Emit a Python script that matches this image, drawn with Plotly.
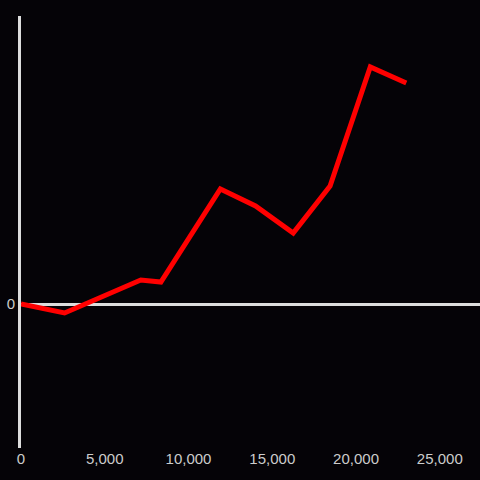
import plotly.graph_objects as go

# Données
x_vals = [0, 2600, 7150, 8350, 11900, 14000, 16250, 18450, 20850, 23000]
y_vals = [0, -9, 24, 22, 115, 98, 71, 118, 237, 221]
x_ticks = [0, 5000, 10000, 15000, 20000, 25000]
x_labels = ["0", "5,000", "10,000", "15,000", "20,000", "25,000"]

BG = "#050307"
AXIS = "#dddddd"
TEXT = "#cccccc"

fig = go.Figure(go.Scatter(
    x=x_vals, y=y_vals, mode="lines",
    line=dict(color="#ff0000", width=5),
))

fig.update_layout(
    width=480, height=480,
    paper_bgcolor=BG, plot_bgcolor=BG,
    margin=dict(l=21, r=0, t=16, b=32),
    showlegend=False,
    font=dict(family="Liberation Sans, Arial, sans-serif", size=15, color=TEXT),
    xaxis=dict(
        range=[0, 27400], showgrid=False, zeroline=False, showline=False,
        tickvals=x_ticks, ticktext=x_labels, ticks="",
    ),
    yaxis=dict(
        range=[-144, 288], showgrid=False,
        zeroline=True, zerolinecolor=AXIS, zerolinewidth=3,
        showline=True, linecolor=AXIS, linewidth=3,
        tickvals=[0], ticktext=["0"], ticks="",
    ),
)

# pas de marge blanche ni de barre d'outils
fig.write_html("out.html", config={"displayModeBar": False},
               post_script="document.body.style.margin='0';")
